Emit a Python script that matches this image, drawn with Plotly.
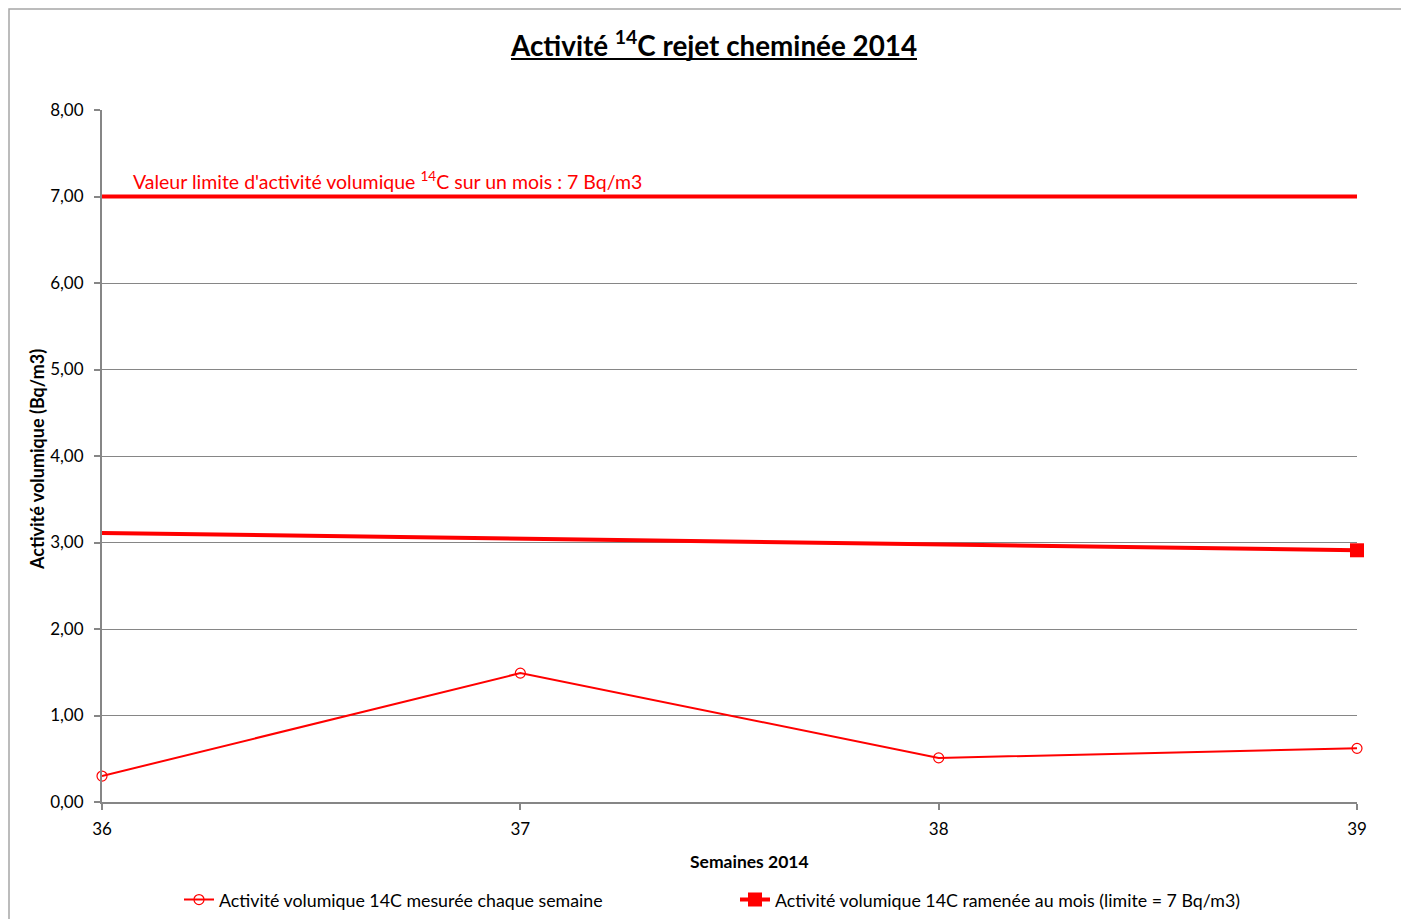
import plotly.graph_objects as go

weeks = [36, 37, 38, 39]
weekly = [0.30, 1.49, 0.51, 0.62]
monthly = [3.11, 3.04, 2.97, 2.91]
limit = [7.0, 7.0, 7.0, 7.0]
y_ticks = [0, 1, 2, 3, 4, 5, 6, 7, 8]

OFF = 8  # page body margin
W, H = 1409 - OFF, 919 - OFF
# absolute plot area: x 102..1357, y 110..802
L = 102 - OFF
T = 110 - OFF
pw, ph = 1255, 692
R = W - L - pw
B = H - T - ph

def px(x):
    return (x - OFF - L) / pw

def py(y):
    return (T + ph - (y - OFF)) / ph

FONT = "Lato"
RED = "#ff0000"
GRAY = "#868686"

fig = go.Figure()
fig.add_trace(go.Scatter(
    x=weeks, y=limit, mode="lines", showlegend=False,
    line=dict(color=RED, width=4), hoverinfo="skip"))
fig.add_trace(go.Scatter(
    x=weeks, y=weekly, mode="lines+markers", cliponaxis=False,
    name="Activité volumique 14C mesurée chaque semaine",
    line=dict(color=RED, width=2),
    marker=dict(symbol="circle-open", size=10, color=RED, line=dict(width=1.2, color=RED))))
fig.add_trace(go.Scatter(
    x=weeks, y=monthly, mode="lines", showlegend=False, cliponaxis=False,
    line=dict(color=RED, width=4)))
fig.add_trace(go.Scatter(
    x=weeks[-1:], y=monthly[-1:], mode="lines+markers", cliponaxis=False,
    name="Activité volumique 14C ramenée au mois (limite = 7 Bq/m3)",
    line=dict(color=RED, width=4),
    marker=dict(symbol="square", size=14, color=RED, line=dict(width=0))))

# title underline
tx0, tx1, ty = 511, 917, 59

fig.update_layout(
    width=W, height=H,
    margin=dict(l=L, r=R, t=T, b=B, autoexpand=False),
    paper_bgcolor="white", plot_bgcolor="white",
    separators=", ",
    font=dict(family=FONT, size=16, color="black"),
    title=dict(text="<b>Activité <sup>14</sup>C rejet cheminée 2014</b>",
               x=(714 - OFF) / W, xanchor="center", y=1 - (46 - OFF) / H, yanchor="middle",
               font=dict(size=27.8, family=FONT)),
    xaxis=dict(range=[36, 39], tickvals=weeks, ticktext=[str(w) for w in weeks],
               showgrid=False, showline=True, linecolor=GRAY, linewidth=2,
               ticks="outside", ticklen=6, tickcolor=GRAY, tickwidth=2,
               ticklabelstandoff=5,
               tickfont=dict(size=17), zeroline=False),
    yaxis=dict(range=[0, 8], tickvals=y_ticks, tickformat=".2f",
               showgrid=True, gridcolor=GRAY, gridwidth=1,
               showline=True, linecolor=GRAY, linewidth=2,
               ticks="outside", ticklen=6, tickcolor=GRAY, tickwidth=2,
               ticklabelstandoff=7,
               tickfont=dict(size=17), zeroline=False),
    legend=dict(orientation="h", x=px(179), xanchor="left", y=py(900), yanchor="middle",
                font=dict(size=17.8), entrywidth=511, itemwidth=30, tracegroupgap=0),
    annotations=[
        dict(text="Valeur limite d'activité volumique <sup>14</sup>C sur un mois : 7 Bq/m3",
             x=px(131), y=py(180), xref="paper", yref="paper", xanchor="left", yanchor="middle",
             showarrow=False, font=dict(size=19.5, color=RED, family=FONT)),
        dict(text="<b>Semaines 2014</b>", x=px(749), y=py(862), xref="paper", yref="paper",
             xanchor="center", yanchor="middle", showarrow=False, font=dict(size=17.5)),
        dict(text="<b>Activité volumique (Bq/m3)</b>", x=px(37), y=py(460), xref="paper", yref="paper",
             xanchor="center", yanchor="middle", textangle=-90, showarrow=False, font=dict(size=18)),
    ],
    shapes=[
        dict(type="rect", xref="paper", yref="paper",
             x0=px(OFF + 1), x1=px(1405), y0=py(930), y1=py(OFF + 1),
             line=dict(color="#a6a6a6", width=1.5), layer="below"),
        dict(type="line", xref="paper", yref="paper",
             x0=px(tx0), x1=px(tx1), y0=py(ty), y1=py(ty),
             line=dict(color="black", width=2)),
    ],
)

fig.write_html("out.html")
